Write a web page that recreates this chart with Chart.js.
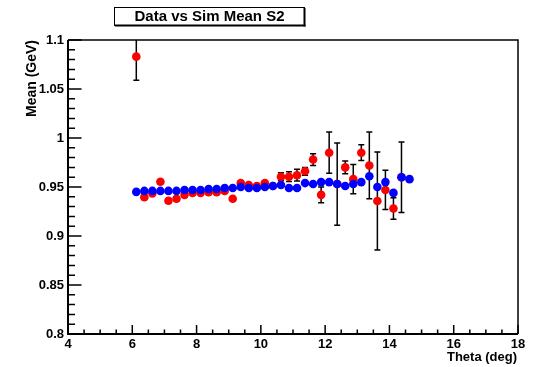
<!DOCTYPE html>
<html>
<head>
<meta charset="utf-8">
<script src="https://cdn.jsdelivr.net/npm/chart.js@4/dist/chart.umd.min.js"></script>
<style>
  html, body { margin: 0; padding: 0; background: #ffffff; }
  #c { display: block; }
</style>
</head>
<body>
<canvas id="c" width="536" height="367"></canvas>
<script>
// ---- data ----
const theta = [6.125, 6.375, 6.625, 6.875, 7.125, 7.375, 7.625, 7.875, 8.125, 8.375,
               8.625, 8.875, 9.125, 9.375, 9.625, 9.875, 10.125, 10.375, 10.625, 10.875,
               11.125, 11.375, 11.625, 11.875, 12.125, 12.375, 12.625, 12.875, 13.125, 13.375,
               13.625, 13.875, 14.125, 14.375, 14.625];
const simMean = [0.945, 0.946, 0.946, 0.946, 0.946, 0.946, 0.947, 0.947, 0.947, 0.948,
                 0.948, 0.949, 0.949, 0.950, 0.949, 0.949, 0.950, 0.951, 0.952, 0.949,
                 0.949, 0.954, 0.953, 0.955, 0.955, 0.953, 0.951, 0.953, 0.955, 0.961,
                 0.950, 0.955, 0.944, 0.960, 0.958];
const dataMean = [1.083, 0.9395, 0.9435, 0.9554, 0.936, 0.938, 0.942, 0.944, 0.944, 0.9446,
                  0.9446, 0.946, 0.938, 0.954, 0.952, 0.951, 0.954, 0.951, 0.9605, 0.9605,
                  0.962, 0.966, 0.978, 0.942, 0.985, 0.953, 0.970, 0.958, 0.985, 0.972,
                  0.9357, 0.947, 0.928, 0.960, null];
const dataErr = [0.024, 0.002, 0.002, 0.002, 0.002, 0.002, 0.002, 0.002, 0.002, 0.002,
                 0.002, 0.002, 0.002, 0.002, 0.002, 0.002, 0.002, 0.002, 0.004, 0.005,
                 0.006, 0.004, 0.006, 0.008, 0.021, 0.042, 0.0065, 0.015, 0.008, 0.034,
                 0.050, 0.020, 0.011, 0.036, 0];
const xTickValues = [4, 6, 8, 10, 12, 14, 16, 18];
const yTickValues = [0.8, 0.85, 0.9, 0.95, 1, 1.05, 1.1];
const titleText = "Data vs Sim Mean S2";
const xTitle = "Theta (deg)";
const yTitle = "Mean (GeV)";

const FONT = "'Liberation Sans', Arial, Helvetica, sans-serif";

const simPoints = theta.map((x, i) => ({ x: x, y: simMean[i] }));
const dataPoints = theta.map((x, i) => ({ x: x, y: dataMean[i], e: dataErr[i] })).filter(p => p.y !== null);

const errorBars = {
  id: 'errorBars',
  beforeDatasetsDraw(chart) {
    const ctx = chart.ctx, xs = chart.scales.x, ys = chart.scales.y;
    const area = chart.chartArea;
    ctx.save();
    ctx.beginPath();
    ctx.rect(area.left, area.top, area.right - area.left, area.bottom - area.top);
    ctx.clip();
    ctx.strokeStyle = '#000';
    ctx.lineWidth = 1.5;
    dataPoints.forEach(p => {
      const px = xs.getPixelForValue(p.x);
      const y1 = ys.getPixelForValue(p.y + p.e);
      const y2 = ys.getPixelForValue(p.y - p.e);
      ctx.beginPath();
      ctx.moveTo(px, y1); ctx.lineTo(px, y2);
      ctx.moveTo(px - 3, y1); ctx.lineTo(px + 3, y1);
      ctx.moveTo(px - 3, y2); ctx.lineTo(px + 3, y2);
      ctx.stroke();
    });
    ctx.restore();
  }
};

const rootFrame = {
  id: 'rootFrame',
  afterDraw(chart) {
    const ctx = chart.ctx, xs = chart.scales.x, ys = chart.scales.y;
    const a = chart.chartArea;
    ctx.save();
    ctx.strokeStyle = '#000';
    // frame
    ctx.lineWidth = 1.5;
    ctx.beginPath();
    ctx.moveTo(a.left, a.top); ctx.lineTo(a.right, a.top); ctx.lineTo(a.right, a.bottom);
    ctx.stroke();
    ctx.lineWidth = 2;
    ctx.beginPath();
    ctx.moveTo(a.left, a.top); ctx.lineTo(a.left, a.bottom); ctx.lineTo(a.right, a.bottom);
    ctx.stroke();
    // y ticks (inward)
    ctx.lineWidth = 1.5;
    ctx.beginPath();
    for (let k = 0; k <= 30; k++) {
      const v = 0.8 + k * 0.01;
      const py = ys.getPixelForValue(v);
      const len = (k % 5 === 0) ? 13.5 : 7;
      ctx.moveTo(a.left, py); ctx.lineTo(a.left + len, py);
    }
    // x ticks (inward)
    for (let k = 0; k <= 28; k++) {
      const v = 4 + k * 0.5;
      const px = xs.getPixelForValue(v);
      const len = (k % 4 === 0) ? 9 : 4.5;
      ctx.moveTo(px, a.bottom); ctx.lineTo(px, a.bottom - len);
    }
    ctx.stroke();
    // axis titles
    ctx.fillStyle = '#000';
    ctx.font = 'bold 13px ' + FONT;
    ctx.textAlign = 'right';
    ctx.textBaseline = 'middle';
    ctx.fillText(xTitle, 517, 357);
    ctx.save();
    ctx.translate(32, a.top);
    ctx.rotate(-Math.PI / 2);
    ctx.font = 'bold 14px ' + FONT;
    ctx.textAlign = 'right';
    ctx.textBaseline = 'middle';
    ctx.fillText(yTitle, 0, 0);
    ctx.restore();
    // title box
    ctx.fillStyle = '#fff';
    ctx.fillRect(114, 7, 190, 18);
    ctx.fillStyle = '#000';
    ctx.fillRect(114 + 190 - 0.5, 8, 2, 18.5);
    ctx.fillRect(115, 7 + 18 - 0.5, 190.5, 2);
    ctx.lineWidth = 1;
    ctx.strokeRect(114.5, 7.5, 190, 18);
    ctx.font = 'bold 15px ' + FONT;
    ctx.textAlign = 'center';
    ctx.textBaseline = 'middle';
    ctx.fillText(titleText, 209.5, 17);
    ctx.restore();
  }
};

new Chart(document.getElementById('c'), {
  type: 'scatter',
  data: {
    datasets: [
      { label: 'Sim', data: simPoints, backgroundColor: '#0000ff', borderWidth: 0, pointRadius: 4.3, pointHoverRadius: 4.3 },
      { label: 'Data', data: dataPoints, backgroundColor: '#ff0000', borderWidth: 0, pointRadius: 4.3, pointHoverRadius: 4.3 }
    ]
  },
  options: {
    responsive: false,
    animation: false,
    events: [],
    layout: { padding: { left: 0, top: 40, right: 18, bottom: 0 } },
    plugins: { legend: { display: false }, tooltip: { enabled: false }, title: { display: false } },
    scales: {
      x: {
        type: 'linear', min: 4, max: 18,
        afterBuildTicks: s => { s.ticks = xTickValues.map(v => ({ value: v })); },
        afterFit: s => { s.height = 33; },
        grid: { display: false, drawTicks: false },
        border: { display: false },
        ticks: { color: '#000', font: { family: FONT, size: 13, weight: 'bold' }, padding: 3, maxRotation: 0, autoSkip: false,
                 callback: v => String(v) }
      },
      y: {
        type: 'linear', min: 0.8, max: 1.1,
        afterBuildTicks: s => { s.ticks = yTickValues.map(v => ({ value: v })); },
        afterFit: s => { s.width = 68; },
        grid: { display: false, drawTicks: false },
        border: { display: false },
        ticks: { color: '#000', font: { family: FONT, size: 13, weight: 'bold' }, padding: 4, autoSkip: false,
                 callback: v => String(+v.toFixed(2)) }
      }
    }
  },
  plugins: [errorBars, rootFrame]
});
</script>
</body>
</html>
